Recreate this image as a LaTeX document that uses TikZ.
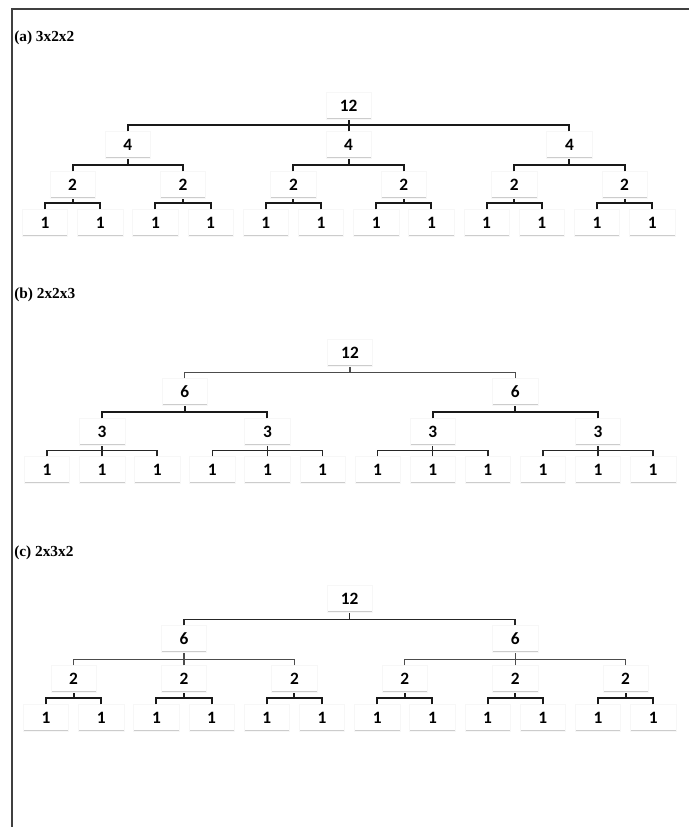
\documentclass[tikz,border=0pt]{standalone}
\usepackage{fontspec}
\setmainfont{Liberation Serif}
\newfontfamily\numfont{Carlito}
\begin{document}
\begin{tikzpicture}[x=0.75pt,y=-0.75pt,
  nbox/.style={font=\numfont\bfseries\fontsize{13}{15}\selectfont,
    minimum width=34pt, minimum height=20pt, inner sep=0pt,
    draw=black!3, fill=white,
    path picture={\draw[black!20, line width=2pt]
      (path picture bounding box.south west) -- (path picture bounding box.south east);}},
  ttl/.style={font=\bfseries\fontsize{11.5}{13}\selectfont, anchor=west, inner sep=0pt},
  conn/.style={draw=black!90, line width=1.4pt},
  connmid/.style={draw=black!85, line width=1.1pt},
  connthin/.style={draw=black!70, line width=0.8pt},
  frame/.style={draw=black!75, line width=1pt}]
\useasboundingbox (0,0) rectangle (689,827);
% frame
\coordinate (fl) at (12,827);
\coordinate (fc) at (12,9);
\coordinate (fr) at (689,9);
\draw[frame] (fl) -- (fc) -- (fr);

% ---------------- (a) 3x2x2 ----------------
\node[ttl] (ta) at (14,38) {(a) 3x2x2};
\node[nbox] (a0) at (348.6,106) {12};
\foreach \k in {0,1,2} \node[nbox] (a1-\k) at ({45+55.2*(4*\k+1.5)},145) {4};
\foreach \j in {0,...,5} \node[nbox] (a2-\j) at ({45+55.2*(2*\j+0.5)},185) {2};
\foreach \i in {0,...,11} \node[nbox] (a3-\i) at ({45+55.2*\i},223) {1};
\foreach \k in {0,1,2} \draw[conn] (a1-\k.north) -- ++(0,-6) -| (a0.south);
\foreach \j [evaluate=\j as \p using {int(floor(\j/2))}] in {0,...,5}
  \draw[conn] (a2-\j.north) -- ++(0,-6) -| (a1-\p.south);
\foreach \i [evaluate=\i as \p using {int(floor(\i/2))}] in {0,...,11}
  \draw[conn] (a3-\i.north) -- ++(0,-6) -| (a2-\p.south);

% ---------------- (b) 2x2x3 ----------------
\node[ttl] (tb) at (14,295) {(b) 2x2x3};
\node[nbox] (b0) at (350,353) {12};
\foreach \k in {0,1} \node[nbox] (b1-\k) at ({47+55.1*(6*\k+2.5)},392) {6};
\foreach \j in {0,...,3} \node[nbox] (b2-\j) at ({47+55.1*(3*\j+1)},432) {3};
\foreach \i in {0,...,11} \node[nbox] (b3-\i) at ({47+55.1*\i},470) {1};
\foreach \k in {0,1} \draw[connthin] (b1-\k.north) -- ++(0,-6) -| (b0.south);
\foreach \j [evaluate=\j as \p using {int(floor(\j/2))}] in {0,...,3}
  \draw[conn] (b2-\j.north) -- ++(0,-6) -| (b1-\p.south);
\foreach \i [evaluate=\i as \p using {int(floor(\i/3))}] in {0,...,11}
  \draw[connmid] (b3-\i.north) -- ++(0,-6) -| (b2-\p.south);

% ---------------- (c) 2x3x2 ----------------
\node[ttl] (tc) at (14,553) {(c) 2x3x2};
\node[nbox] (c0) at (349.6,599) {12};
\foreach \k in {0,1} \node[nbox] (c1-\k) at ({46+55.2*(6*\k+2.5)},639) {6};
\foreach \j in {0,...,5} \node[nbox] (c2-\j) at ({46+55.2*(2*\j+0.5)},679) {2};
\foreach \i in {0,...,11} \node[nbox] (c3-\i) at ({46+55.2*\i},718) {1};
\foreach \k in {0,1} \draw[connmid] (c1-\k.north) -- ++(0,-6) -| (c0.south);
\foreach \j [evaluate=\j as \p using {int(floor(\j/3))}] in {0,...,5}
  \draw[connthin] (c2-\j.north) -- ++(0,-6) -| (c1-\p.south);
\foreach \i [evaluate=\i as \p using {int(floor(\i/2))}] in {0,...,11}
  \draw[conn] (c3-\i.north) -- ++(0,-6) -| (c2-\p.south);
\end{tikzpicture}
\end{document}
